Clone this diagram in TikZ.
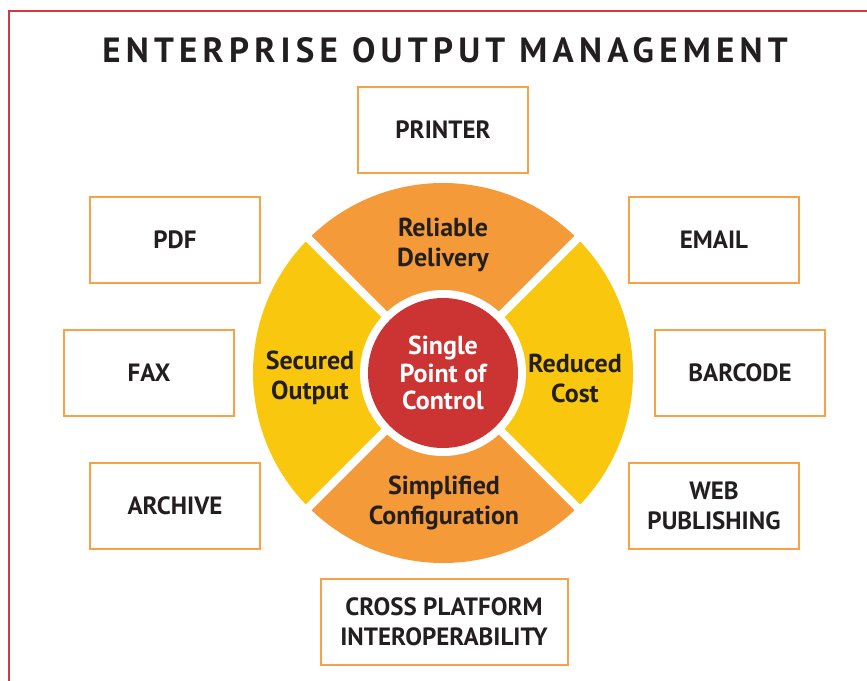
\documentclass[tikz,border=0pt]{standalone}
\usepackage{fontspec}
\setmainfont{PT Sans}
\definecolor{framered}{HTML}{D7373D}
\definecolor{boxorange}{HTML}{F7A246}
\definecolor{secorange}{HTML}{F59A38}
\definecolor{secyellow}{HTML}{F9C80E}
\definecolor{corered}{HTML}{CC3333}
\definecolor{inkdark}{HTML}{231F20}

\begin{document}
\begin{tikzpicture}[x=1pt, y=1pt,
  outbox/.style={draw=boxorange, line width=2pt, minimum width=170pt, minimum height=86pt, inner sep=0pt, align=center, text=inkdark, font=\fontsize{25}{30}\selectfont\bfseries},
  seclabel/.style={align=center, text=inkdark, font=\fontsize{26}{30}\selectfont\bfseries},
  corelabel/.style={circle, fill=corered, minimum size=150pt, inner sep=0pt, align=center, text=white, font=\fontsize{26}{27.5}\selectfont\bfseries}]

\useasboundingbox (0,0) rectangle (867,-680);
\draw [framered, line width=2pt] (9,-700) |- (880,-11);

\node[text=inkdark, font=\fontsize{35}{40}\selectfont\bfseries] (title) at (445,-50) {\addfontfeature{LetterSpace=15}ENTERPRISE OUTPUT MANAGEMENT};

\coordinate (c) at (443,-373);
\fill [secorange] (c) -- ++(45:190pt) arc[start angle=45, end angle=135, radius=190pt] -- cycle;
\fill [secyellow] (c) -- ++(135:190pt) arc[start angle=135, end angle=225, radius=190pt] -- cycle;
\fill [secorange] (c) -- ++(225:190pt) arc[start angle=225, end angle=315, radius=190pt] -- cycle;
\fill [secyellow] (c) -- ++(315:190pt) arc[start angle=315, end angle=405, radius=190pt] -- cycle;
\draw [white, line width=8pt] (c) ++(45:195pt) -- ++(225:390pt);
\draw [white, line width=8pt] (c) ++(135:195pt) -- ++(315:390pt);
\fill [white] (c) circle[radius=83pt];
\node[corelabel] (core) at (c) {Single\\Point of\\Control};

\node[seclabel] (delivery) at (443,-245) {Reliable\\Delivery};
\node[seclabel] (secured) at (310,-378) {Secured\\Output};
\node[seclabel] (cost) at (575,-378) {Reduced\\Cost};
\node[seclabel] (config) at (444,-503) {Simplified\\Configuration};

\node[outbox] (printer) at (443,-130) {PRINTER};
\node[outbox] (pdf) at (175,-240) {PDF};
\node[outbox] (email) at (714,-240) {EMAIL};
\node[outbox] (fax) at (149,-373) {FAX};
\node[outbox] (barcode) at (740,-373) {BARCODE};
\node[outbox] (archive) at (175,-506) {ARCHIVE};
\node[outbox] (web) at (714,-506) {WEB\\PUBLISHING};
\node[outbox, minimum width=247pt] (cross) at (444,-622) {CROSS PLATFORM\\INTEROPERABILITY};
\end{tikzpicture}
\end{document}
